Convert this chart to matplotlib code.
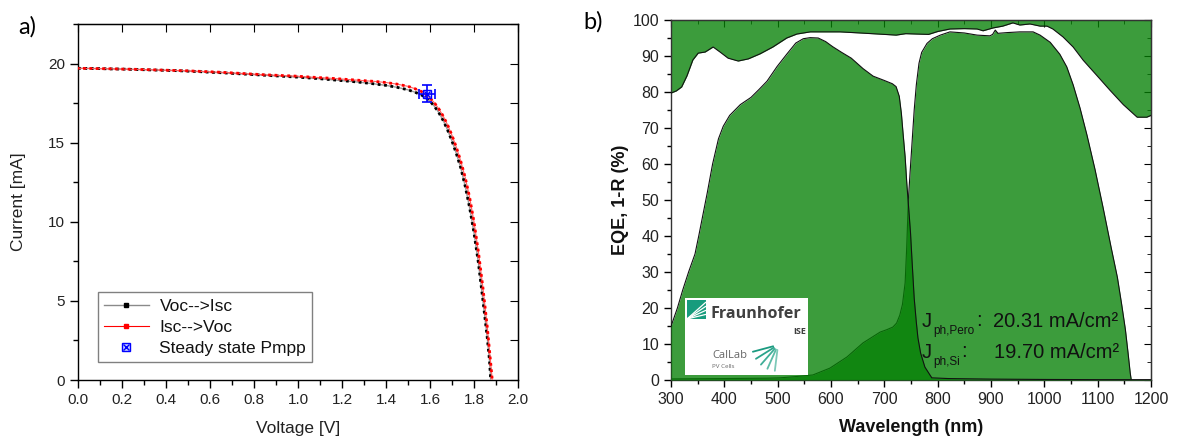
import numpy as np
import matplotlib
matplotlib.use("Agg")
import matplotlib.pyplot as plt
from matplotlib.ticker import MultipleLocator
from matplotlib.lines import Line2D

plt.rcParams['font.family'] = ['Liberation Sans', 'DejaVu Sans']

# ---------------- Panel a) JV data ----------------
v_fwd = [0.00, 0.05, 0.10, 0.15, 0.20, 0.25, 0.30, 0.35, 0.40, 0.45, 0.50, 0.55, 0.60,
         0.65, 0.70, 0.75, 0.80, 0.85, 0.90, 0.95, 1.00, 1.05, 1.10, 1.15, 1.20, 1.25,
         1.30, 1.35, 1.40, 1.45, 1.50, 1.53, 1.56, 1.58, 1.60, 1.62, 1.64, 1.66, 1.68,
         1.70, 1.72, 1.74, 1.76, 1.78, 1.80, 1.82, 1.84, 1.86, 1.87, 1.876]
i_voc_isc = [19.70, 19.69, 19.68, 19.66, 19.65, 19.63, 19.61, 19.59, 19.57, 19.55, 19.52,
             19.49, 19.45, 19.42, 19.38, 19.34, 19.30, 19.26, 19.22, 19.18, 19.14, 19.09,
             19.04, 18.98, 18.92, 18.86, 18.79, 18.71, 18.62, 18.50, 18.34, 18.20, 18.02,
             17.86, 17.62, 17.30, 16.90, 16.40, 15.80, 15.10, 14.30, 13.40, 12.25, 10.90,
             9.30, 7.40, 5.10, 2.70, 1.30, 0.00]
v_rev = [0.00, 0.05, 0.10, 0.15, 0.20, 0.25, 0.30, 0.35, 0.40, 0.45, 0.50, 0.55, 0.60,
         0.65, 0.70, 0.75, 0.80, 0.85, 0.90, 0.95, 1.00, 1.05, 1.10, 1.15, 1.20, 1.25,
         1.30, 1.35, 1.40, 1.45, 1.50, 1.53, 1.56, 1.58, 1.60, 1.62, 1.64, 1.66, 1.68,
         1.70, 1.72, 1.74, 1.76, 1.78, 1.80, 1.82, 1.84, 1.86, 1.875, 1.883]
i_isc_voc = [19.70, 19.69, 19.68, 19.67, 19.65, 19.64, 19.62, 19.60, 19.58, 19.56, 19.54,
             19.51, 19.48, 19.45, 19.41, 19.37, 19.33, 19.29, 19.26, 19.23, 19.20, 19.15,
             19.11, 19.07, 19.02, 18.97, 18.92, 18.87, 18.80, 18.70, 18.56, 18.42, 18.24,
             18.06, 17.82, 17.52, 17.14, 16.68, 16.12, 15.46, 14.70, 13.82, 12.80, 11.55,
             10.00, 8.10, 5.90, 3.40, 1.20, 0.00]
mpp_v = [1.585]
mpp_i = [18.10]
mpp_verr = [0.036]
mpp_ierr = [0.56]

# ---------------- Panel b) EQE data ----------------
wl_R = [300, 310, 320, 330, 341, 351, 364, 379, 392, 407, 426, 445, 467, 491, 517, 536,
        561, 617, 654, 700, 722, 740, 760, 783, 800, 823, 850, 874, 885, 904, 922, 941,
        954, 973, 992, 1005, 1016, 1035, 1054, 1073, 1099, 1123, 1148, 1174, 1192, 1200]
one_minus_R = [79.7, 80.3, 81.4, 84.5, 88.9, 90.8, 91.1, 92.5, 91.1, 89.4, 88.6, 89.2,
               90.6, 92.5, 95.0, 96.1, 96.7, 96.7, 96.4, 96.0, 95.8, 96.2, 96.1, 96.0,
               96.8, 97.5, 97.6, 97.5, 97.0, 97.8, 98.3, 99.2, 98.6, 98.9, 98.3, 98.3,
               97.5, 95.3, 92.5, 88.8, 84.5, 80.5, 76.5, 73.0, 73.0, 73.5]

wl_pero = [300, 312, 322, 333, 345, 352, 360, 368, 378, 389, 398, 410, 430, 450, 465, 480,
           499, 517, 534, 548, 561, 576, 590, 603, 620, 638, 660, 679, 700, 715, 722, 728,
           732, 735, 739, 742, 746, 749, 752, 756, 760, 763, 768, 776, 789, 820, 900, 1000,
           1100, 1200]
eqe_pero = [14.9, 20.0, 25.0, 30.0, 35.0, 40.0, 46.0, 52.0, 60.0, 67.0, 70.5, 73.5, 76.5,
            78.5, 80.7, 83.0, 87.1, 90.5, 93.6, 94.8, 95.1, 95.0, 94.0, 92.6, 91.0, 89.4,
            86.5, 84.4, 83.2, 82.3, 81.5, 78.8, 74.0, 68.7, 62.0, 54.9, 47.0, 41.1, 33.0,
            22.7, 16.0, 11.7, 7.5, 3.6, 0.6, 0.4, 0.25, 0.15, 0.1, 0.1]

wl_si = [300, 400, 480, 504, 530, 566, 598, 630, 660, 692, 705, 716, 723, 729, 734, 739,
         742, 745, 748, 752, 756, 760, 765, 770, 780, 790, 805, 823, 850, 874, 898, 903,
         908, 913, 930, 954, 979, 992, 1011, 1029, 1042, 1054, 1067, 1080, 1095, 1110,
         1125, 1137, 1145, 1152, 1157, 1161, 1163]
eqe_si = [0.3, 0.4, 0.5, 0.6, 0.9, 1.4, 3.3, 6.4, 10.3, 13.3, 14.0, 14.7, 15.8, 18.0,
          21.0, 27.0, 37.0, 50.0, 57.0, 66.0, 75.0, 82.0, 88.0, 91.0, 93.5, 94.8, 95.8,
          96.7, 96.4, 95.8, 95.6, 96.0, 97.2, 96.3, 96.5, 96.7, 96.7, 95.8, 93.8, 90.5,
          87.0, 82.0, 75.5, 68.0, 58.5, 48.0, 37.0, 28.5, 21.0, 14.0, 7.5, 2.0, 0.0]

jph_sub = ["ph,Pero", "ph,Si"]
jph_values = ["20.31 mA/cm²", "19.70 mA/cm²"]

# ---------------- Figure ----------------
fig = plt.figure(figsize=(11.78, 4.41), dpi=100)
W, H = 1178, 441
ax1 = fig.add_axes([78 / W, (H - 380) / H, 440 / W, 356 / H])
ax2 = fig.add_axes([671 / W, (H - 380) / H, 480 / W, 360 / H])

tick_col = '#222222'

# ---- panel a ----
ax1.plot(v_fwd, i_voc_isc, '-', color='#9a9a9a', lw=1.0, zorder=3)
ax1.plot(v_fwd, i_voc_isc, color='black', lw=2.0, ls=(0, (1, 1.3)), zorder=3.1)
ax1.plot(v_rev, i_isc_voc, '-', color='#ff6060', lw=0.8, zorder=4)
ax1.plot(v_rev, i_isc_voc, color='red', lw=2.0, ls=(0.5, (1, 1.3)), zorder=4.1)
ax1.errorbar(mpp_v, mpp_i, xerr=mpp_verr, yerr=mpp_ierr, fmt='none', ecolor='blue',
             elinewidth=1.2, capsize=3.5, capthick=1.2, zorder=5)
ax1.plot(mpp_v, mpp_i, 's', ms=6, mfc='none', mec='blue', mew=1.0, zorder=6)
ax1.plot(mpp_v, mpp_i, 'x', ms=5, mec='blue', mew=1.0, zorder=6)

ax1.set_xlim(0, 2.0)
ax1.set_ylim(0, 22.5)
ax1.xaxis.set_major_locator(MultipleLocator(0.2))
ax1.xaxis.set_minor_locator(MultipleLocator(0.1))
ax1.yaxis.set_major_locator(MultipleLocator(5))
ax1.yaxis.set_minor_locator(MultipleLocator(2.5))
ax1.xaxis.set_major_formatter(matplotlib.ticker.FormatStrFormatter('%.1f'))
ax1.tick_params(which='major', direction='out', length=6, width=1, labelsize=11,
                labelcolor=tick_col, top=False, right=False)
ax1.tick_params(which='minor', direction='out', length=3.5, width=1, top=False, right=False)
secx1 = ax1.secondary_xaxis('top')
secx1.set_xticks(np.arange(0, 2.01, 0.2))
secx1.tick_params(direction='in', length=6, labeltop=False, labelbottom=False)
secy1 = ax1.secondary_yaxis('right')
secy1.set_yticks(np.arange(0, 22.6, 2.5))
secy1.tick_params(direction='in', length=6, labelright=False, labelleft=False)
for s in ax1.spines.values():
    s.set_linewidth(1.0)

ax1.set_xlabel('Voltage [V]', fontsize=12.5, color=tick_col)
ax1.set_ylabel('Current [mA]', fontsize=12.5, color=tick_col)
ax1.xaxis.set_label_coords(0.5, -0.135)
ax1.yaxis.set_label_coords(-0.136, 0.5)
ax1.yaxis.label.set_va('center')
ax1.xaxis.label.set_va('center')

h1 = Line2D([], [], color='#8a8a8a', lw=1.0, marker='s', ms=2.5, mfc='black', mec='black')
h2 = Line2D([], [], color='red', lw=0.8, marker='s', ms=2.5, mfc='red', mec='red')
h3a = Line2D([], [], ls='none', marker='s', ms=6, mfc='#c8d0ff', mec='blue', mew=1.0)
h3b = Line2D([], [], ls='none', marker='x', ms=4.5, mec='blue', mew=1.0)
leg = ax1.legend([h1, h2, (h3a, h3b)], ['Voc-->Isc', 'Isc-->Voc', 'Steady state Pmpp'],
                 loc='lower left', bbox_to_anchor=(0.045, 0.05), borderaxespad=0,
                 fontsize=12.5, frameon=True, fancybox=False, edgecolor='#808080',
                 framealpha=1, handlelength=2.6, handletextpad=0.6, labelspacing=0.35,
                 borderpad=0.35)
leg.get_frame().set_linewidth(1.0)
for t in leg.get_texts():
    t.set_color('#111111')

fig.text(27 / W, 1 - 27 / H, 'a)', fontsize=17, family=['Lato', 'DejaVu Sans'],
         ha='center', va='center')
fig.text(593 / W, 1 - 22 / H, 'b)', fontsize=17, family=['Lato', 'DejaVu Sans'],
         ha='center', va='center')

# ---- panel b ----
green = '#058005'
alpha = 0.78
ax2.fill_between(wl_R, one_minus_R, 100, color=green, alpha=alpha, lw=0, zorder=1)
ax2.plot(wl_R, one_minus_R, color='#111111', lw=0.8, zorder=5)
ax2.fill_between(wl_si, eqe_si, 0, color=green, alpha=alpha, lw=0, zorder=2)
ax2.plot(wl_si, eqe_si, color='#111111', lw=0.8, zorder=2.5)
ax2.fill_between(wl_pero, eqe_pero, 0, color=green, alpha=alpha, lw=0, zorder=3)
ax2.plot(wl_pero, eqe_pero, color='#111111', lw=0.8, zorder=4)

ax2.set_xlim(300, 1200)
ax2.set_ylim(0, 100)
ax2.xaxis.set_major_locator(MultipleLocator(100))
ax2.xaxis.set_minor_locator(MultipleLocator(50))
ax2.yaxis.set_major_locator(MultipleLocator(10))
ax2.yaxis.set_minor_locator(MultipleLocator(5))
ax2.tick_params(which='major', direction='out', length=5, width=1, labelsize=11.5,
                labelcolor=tick_col, top=False, right=False)
ax2.tick_params(which='minor', direction='out', length=3, width=1, top=False, right=False)
secx2 = ax2.secondary_xaxis('top')
secx2.set_xticks(np.arange(300, 1201, 100))
secx2.xaxis.set_minor_locator(MultipleLocator(50))
secx2.tick_params(which='major', direction='in', length=5, labeltop=False, labelbottom=False)
secx2.tick_params(which='minor', direction='in', length=3)
secy2 = ax2.secondary_yaxis('right')
secy2.set_yticks(np.arange(0, 101, 10))
secy2.yaxis.set_minor_locator(MultipleLocator(5))
secy2.tick_params(which='major', direction='in', length=5, labelright=False, labelleft=False)
secy2.tick_params(which='minor', direction='in', length=3)
for s in ax2.spines.values():
    s.set_linewidth(1.0)
    s.set_color('#333333')

ax2.set_xlabel('Wavelength (nm)', fontsize=13, fontweight='bold', color='#111111')
ax2.set_ylabel('EQE, 1-R (%)', fontsize=13, fontweight='bold', color='#111111')
ax2.xaxis.set_label_coords(0.5, -0.133)
ax2.yaxis.set_label_coords(-0.106, 0.5)
ax2.xaxis.label.set_va('center')
ax2.yaxis.label.set_va('center')


def px2ax2(x, y):
    return ((x - 671) / 480, (380 - y) / 360)


# J_ph annotations: J, subscript, colon (placed after the subscript), value
renderer = fig.canvas.get_renderer()
j_rows = [dict(base=327, sub_base=334, val_x=993),
          dict(base=358, sub_base=365, val_x=994)]
for row, sub, val in zip(j_rows, jph_sub, jph_values):
    kw = dict(transform=ax2.transAxes, color='#111111', zorder=10, va='baseline',
              ha='left')
    ax2.text(*px2ax2(922, row['base']), 'J', fontsize=14.5, **kw)
    t_sub = ax2.text(*px2ax2(933, row['sub_base']), sub, fontsize=8.5, **kw)
    x_end = t_sub.get_window_extent(renderer).x1
    ax2.text(*px2ax2(x_end + 1.5, row['base'] - 1), ':', fontsize=14.5, **kw)
    ax2.text(*px2ax2(row['val_x'], row['base']), val, fontsize=14.5, **kw)

# ---- logo box ----
lx0, ly0, lx1, ly1 = 685, 298, 808, 375
axl = fig.add_axes([lx0 / W, (H - ly1) / H, (lx1 - lx0) / W, (ly1 - ly0) / H])
axl.set_xlim(0, lx1 - lx0)
axl.set_ylim(ly1 - ly0, 0)
axl.set_facecolor('white')
axl.set_xticks([])
axl.set_yticks([])
for s in axl.spines.values():
    s.set_visible(False)
teal = '#179c7d'
axl.add_patch(plt.Rectangle((1.5, 2), 19, 19, color=teal, lw=0))
for yy in [4.5, 8.5, 12.5, 16.5]:
    axl.plot([2, 20.5], [21, yy], color='white', lw=0.9)
axl.text(26, 15.5, 'Fraunhofer', fontsize=11.6, family=['Open Sans', 'DejaVu Sans'],
         fontweight='bold', color='#404040', ha='left', va='center')
axl.text(121, 34, 'ISE', fontsize=6.5, family=['Open Sans', 'DejaVu Sans'],
         fontweight='bold', color='#404040', ha='right', va='center')
axl.text(27, 57, 'CalLab', fontsize=8, family=['Open Sans', 'DejaVu Sans'],
         color='#666666', ha='left', va='center')
axl.text(27, 68.5, 'PV Cells', fontsize=4.5, family=['Open Sans', 'DejaVu Sans'],
         color='#666666', ha='left', va='center')
cx, cy = 93, 47
for ang, c in zip(np.deg2rad([195, 212, 229, 246, 263]),
                  ['#1b9a80', '#2aa38a', '#3fae97', '#5bbba6', '#7ec9b8']):
    r0, r1 = 5, 26
    axl.plot([cx + r0 * np.cos(ang), cx + r1 * np.cos(ang)],
             [cy - r0 * np.sin(ang), cy - r1 * np.sin(ang)], color=c, lw=1.3,
             solid_capstyle='round')

fig.savefig('out.png', dpi=100)
